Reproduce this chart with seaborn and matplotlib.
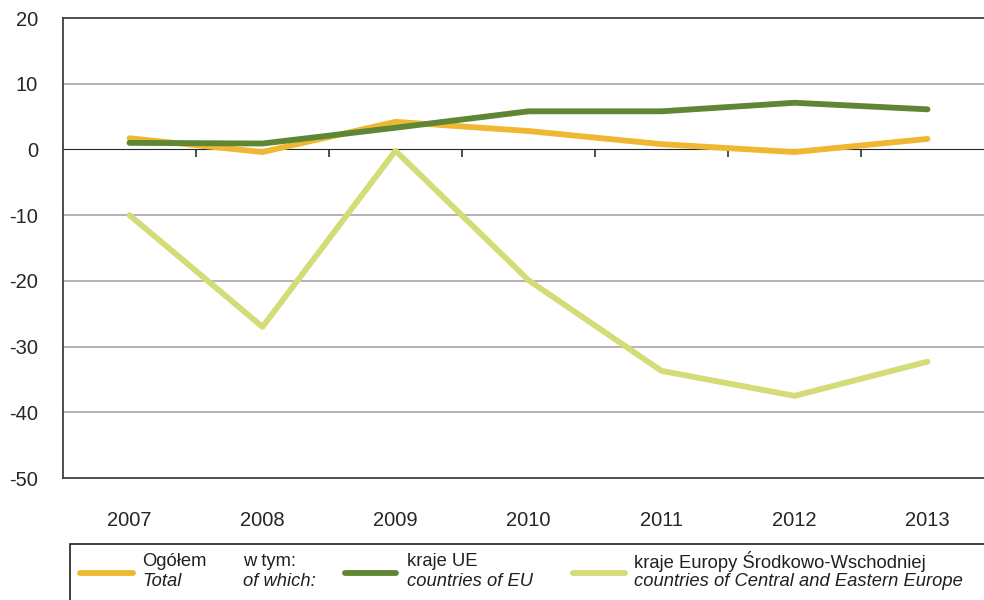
import numpy as np
import pandas as pd
import seaborn as sns
import matplotlib.pyplot as plt
from matplotlib.patches import Rectangle
from matplotlib.lines import Line2D

years = ['2007', '2008', '2009', '2010', '2011', '2012', '2013']
ogolem = [1.7, -0.4, 4.2, 2.8, 0.8, -0.4, 1.6]
kraje_ue = [1.0, 0.9, 3.3, 5.8, 5.8, 7.1, 6.1]
kraje_esw = [-10.0, -27.0, -0.2, -19.9, -33.7, -37.5, -32.3]

c_total = '#F0B832'
c_ue = '#5E8634'
c_esw = '#D3DC76'

sns.set_style('white')
plt.rcParams['font.family'] = ['Liberation Sans', 'DejaVu Sans']

df = pd.DataFrame({
    'x': list(range(len(years))) * 3,
    'wartosc': ogolem + kraje_ue + kraje_esw,
    'seria': ['ogolem'] * 7 + ['ue'] * 7 + ['esw'] * 7,
})

fig = plt.figure(figsize=(9.84, 6.0), dpi=100)
ax = fig.add_axes([63 / 984, 1 - 478 / 600, 931 / 984, 460 / 600])

for y in [10, -10, -20, -30, -40]:
    ax.axhline(y, color='#A6A6A6', lw=1.2, zorder=0)

# axis line at zero with category boundary ticks
sec = ax.secondary_xaxis(50 / 70)
sec.set_xticks(np.arange(0.5, 6.5, 1.0))
sec.set_xticklabels([])
sec.tick_params(length=6, width=1.2, color='#303030', direction='in')
sec.spines['bottom'].set_color('#202020')
sec.spines['bottom'].set_linewidth(1.3)
sec.set_zorder(1)

sns.lineplot(data=df, x='x', y='wartosc', hue='seria',
             hue_order=['esw', 'ogolem', 'ue'],
             palette={'ogolem': c_total, 'ue': c_ue, 'esw': c_esw},
             lw=4.2, legend=False, ax=ax, solid_capstyle='round')

ax.set_xlim(-0.5, 6.5)
ax.set_ylim(-50, 20)
ax.set_yticks(range(-50, 30, 10))
ax.set_yticklabels([str(v) for v in range(-50, 30, 10)], fontsize=14.5)
ax.set_xticks(range(7))
ax.set_xticklabels(years, fontsize=14.5)
ax.tick_params(axis='x', length=0, pad=24)
ax.tick_params(axis='y', length=0, pad=18)
ax.set_xlabel('')
ax.set_ylabel('')
for s in ['left', 'bottom', 'top']:
    ax.spines[s].set_color('#404040')
    ax.spines[s].set_linewidth(1.3)
ax.spines['right'].set_visible(False)

# legend box
fig.patches.append(Rectangle((70 / 984, -0.01), 1.0, 62 / 600, transform=fig.transFigure,
                             fill=False, edgecolor='#202020', lw=1.2))
ly = 1 - 573 / 600
t1 = 1 - 562 / 600
t2 = 1 - 582 / 600
for x0, x1, col in [(80, 133, c_total), (345, 396, c_ue), (573, 625, c_esw)]:
    fig.lines.append(Line2D([x0 / 984, x1 / 984], [ly, ly], transform=fig.transFigure,
                            color=col, lw=4.2, solid_capstyle='round'))
fs = 13.2
for x, a, b in [(142, 'Ogółem', 'Total'), (243, 'w tym:', 'of which:'),
                (407, 'kraje UE', 'countries of EU'),
                (634, 'kraje Europy Środkowo-Wschodniej', 'countries of Central and Eastern Europe')]:
    fig.text(x / 984, t1, a, fontsize=fs, va='center', ha='left', color='#202020')
    fig.text(x / 984, t2, b, fontsize=fs, va='center', ha='left', style='italic', color='#202020')

fig.savefig('out.png', dpi=100)
